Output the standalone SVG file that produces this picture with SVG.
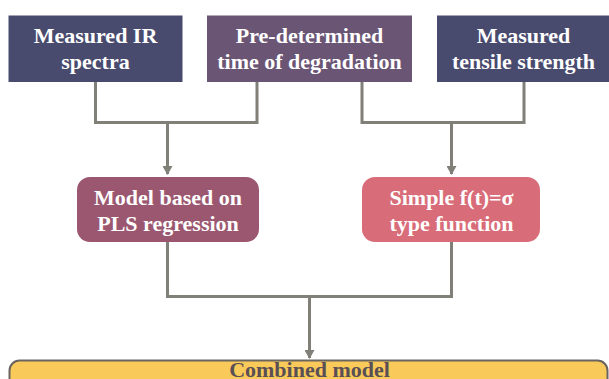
<svg xmlns="http://www.w3.org/2000/svg" width="609" height="379" viewBox="0 0 609 379">
<style>
.t{font-family:"Liberation Serif","DejaVu Serif",serif;font-weight:bold;font-size:22px;fill:#ffffff;text-anchor:middle}
.c{fill:none;stroke:#807f78;stroke-width:3}
</style>
<defs>
<marker id="ah" markerWidth="10" markerHeight="10" refX="8" refY="5" orient="auto" markerUnits="userSpaceOnUse">
<path d="M0,0 L9,5 L0,10 Z" fill="#807f78"/>
</marker>
</defs>
<rect width="609" height="379" fill="#ffffff"/>
<g id="connectors">
<path class="c" d="M95.5,82 V122.5 H257 V82"/>
<path class="c" d="M167.5,122.5 V174" marker-end="url(#ah)"/>
<path class="c" d="M362,82 V122.5 H524 V82"/>
<path class="c" d="M451.5,122.5 V174" marker-end="url(#ah)"/>
<path class="c" d="M167.5,242 V296.5 H451.5 V242"/>
<path class="c" d="M309.5,296.5 V358" marker-end="url(#ah)"/>
</g>
<g id="n1">
<rect x="8.5" y="15.5" width="174" height="66.5" fill="#484a6e"/>
<text class="t" x="95.5" y="43">Measured IR</text>
<text class="t" x="95.5" y="69">spectra</text>
</g>
<g id="n2">
<rect x="207" y="15.5" width="205" height="66.5" fill="#6a5575"/>
<text class="t" x="309.5" y="43">Pre-determined</text>
<text class="t" x="309.5" y="69">time of degradation</text>
</g>
<g id="n3">
<rect x="437" y="15.5" width="175" height="66.5" fill="#484a6e"/>
<text class="t" x="523.5" y="43">Measured</text>
<text class="t" x="523.5" y="69">tensile strength</text>
</g>
<g id="n4">
<rect x="77" y="177" width="182" height="65" rx="13" fill="#9b5770"/>
<text class="t" x="168" y="205">Model based on</text>
<text class="t" x="168" y="231">PLS regression</text>
</g>
<g id="n5">
<rect x="362" y="177" width="178" height="65" rx="13" fill="#d86c78"/>
<text class="t" x="451.5" y="205">Simple f(t)=σ</text>
<text class="t" x="451.5" y="231">type function</text>
</g>
<g id="n6">
<rect x="9.5" y="360.5" width="598" height="40" rx="10" fill="#f9c95a" stroke="#6b6560" stroke-width="2"/>
<text class="t" x="309.5" y="377" style="fill:#5a4f55">Combined model</text>
</g>
</svg>
